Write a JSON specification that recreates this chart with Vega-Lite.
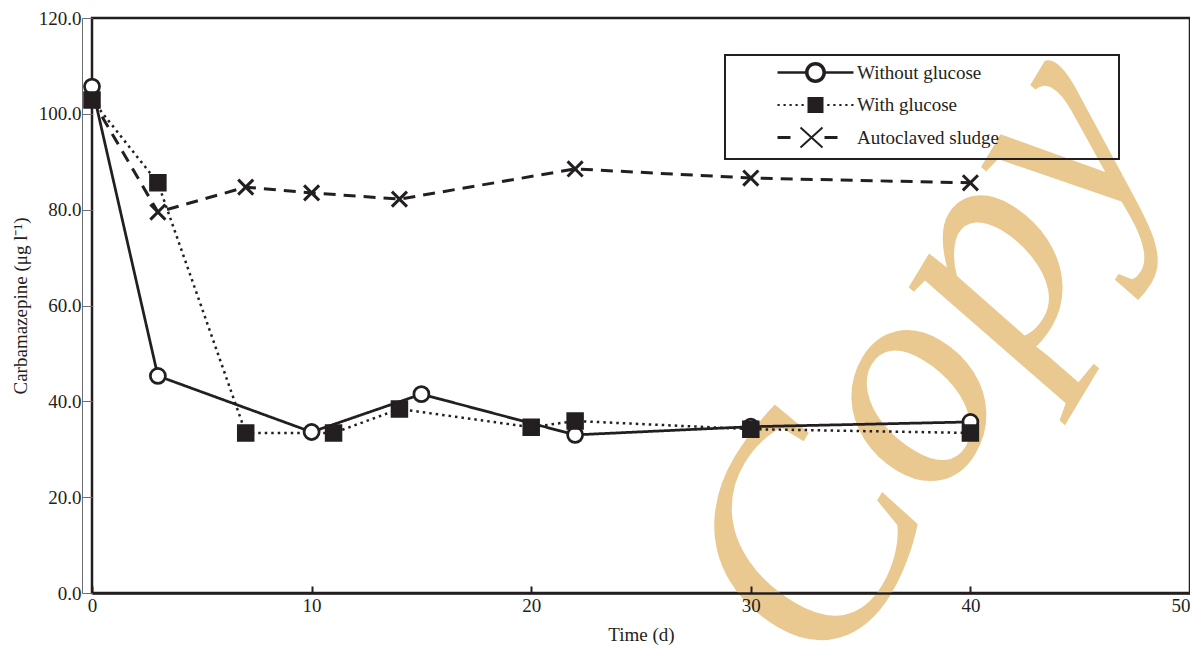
{
  "$schema": "https://vega.github.io/schema/vega-lite/v6.json",
  "width": 1098,
  "height": 575,
  "autosize": "none",
  "padding": {"left": 92, "top": 18, "right": 0, "bottom": 57},
  "background": "white",
  "config": {
    "view": {"stroke": "#231f20", "strokeWidth": 2.5},
    "font": "Liberation Serif",
    "legend": {"strokeWidth": 2},
    "axis": {"labelFont": "Liberation Serif", "titleFont": "Liberation Serif", "labelColor": "#231f20", "titleColor": "#231f20", "labelFontSize": 19, "titleFontSize": 19, "titleFontWeight": "normal", "grid": false},
    "axisX": {"domain": true, "domainColor": "#231f20", "domainWidth": 2.5, "tickSize": -7, "tickWidth": 2, "tickColor": "#231f20", "labelPadding": 10, "titlePadding": 10, "labelFlush": false},
    "axisY": {"offset": 10, "domainColor": "#6d6e71", "domainWidth": 1, "tickColor": "#6d6e71", "tickWidth": 1, "tickSize": -10, "labelPadding": 11, "titlePadding": 8, "titleColor": "#231f20"}
  },
  "data": {
    "values": [
      {"series": "Without glucose", "t": 0, "v": 105.7},
      {"series": "Without glucose", "t": 3, "v": 45.3},
      {"series": "Without glucose", "t": 10, "v": 33.6},
      {"series": "Without glucose", "t": 15, "v": 41.5},
      {"series": "Without glucose", "t": 22, "v": 33.0},
      {"series": "Without glucose", "t": 30, "v": 34.7},
      {"series": "Without glucose", "t": 40, "v": 35.7},
      {"series": "With glucose", "t": 0, "v": 102.9},
      {"series": "With glucose", "t": 3, "v": 85.6},
      {"series": "With glucose", "t": 7, "v": 33.4},
      {"series": "With glucose", "t": 11, "v": 33.4},
      {"series": "With glucose", "t": 14, "v": 38.4},
      {"series": "With glucose", "t": 20, "v": 34.6},
      {"series": "With glucose", "t": 22, "v": 35.9},
      {"series": "With glucose", "t": 30, "v": 34.2},
      {"series": "With glucose", "t": 40, "v": 33.4},
      {"series": "Autoclaved sludge", "t": 0, "v": 103.0},
      {"series": "Autoclaved sludge", "t": 3, "v": 79.5},
      {"series": "Autoclaved sludge", "t": 7, "v": 84.7},
      {"series": "Autoclaved sludge", "t": 10, "v": 83.5},
      {"series": "Autoclaved sludge", "t": 14, "v": 82.2},
      {"series": "Autoclaved sludge", "t": 22, "v": 88.5},
      {"series": "Autoclaved sludge", "t": 30, "v": 86.6},
      {"series": "Autoclaved sludge", "t": 40, "v": 85.6}
    ]
  },
  "resolve": {"scale": {"shape": "independent"}, "legend": {"shape": "independent"}},
  "layer": [
    {
      "data": {"values": [{"label": "Copy"}]},
      "mark": {"type": "text", "angle": 301, "fontSize": 305, "font": "Liberation Serif", "fontStyle": "italic", "color": "#E9C98F", "align": "center", "baseline": "middle"},
      "encoding": {
        "x": {"datum": 37.8, "type": "quantitative", "scale": {"domain": [0, 50], "nice": false, "zero": false},
          "axis": {"title": "Time (d)", "zindex": 1, "values": [0, 10, 20, 30, 40, 50], "labelAlign": {"condition": {"test": "datum.value === 50", "value": "right"}, "value": "center"}}},
        "y": {"datum": 49.0, "type": "quantitative", "scale": {"domain": [0, 120], "nice": false},
          "axis": {"title": "Carbamazepine (μg l⁻¹)", "zindex": 1, "values": [0, 20, 40, 60, 80, 100, 120], "format": ".1f"}},
        "text": {"field": "label"}
      }
    },
    {
      "mark": {"type": "line", "color": "#231f20"},
      "encoding": {
        "x": {"field": "t", "type": "quantitative", "scale": {"domain": [0, 50], "nice": false, "zero": false},
          "axis": {"title": "Time (d)", "zindex": 1, "values": [0, 10, 20, 30, 40, 50], "labelAlign": {"condition": {"test": "datum.value === 50", "value": "right"}, "value": "center"}}},
        "y": {"field": "v", "type": "quantitative", "scale": {"domain": [0, 120], "nice": false},
          "axis": {"title": "Carbamazepine (μg l⁻¹)", "zindex": 1, "values": [0, 20, 40, 60, 80, 100, 120], "format": ".1f"}},
        "strokeDash": {"field": "series", "type": "nominal", "scale": {"domain": ["With glucose", "Without glucose", "Autoclaved sludge"], "range": [[2.5, 4], [1, 0], [12, 8]]}, "legend": null},
        "strokeWidth": {"field": "series", "type": "nominal", "scale": {"domain": ["With glucose", "Without glucose", "Autoclaved sludge"], "range": [2.5, 3, 3.5]}, "legend": null}
      }
    },
    {
      "mark": {"type": "point", "stroke": "#231f20", "opacity": 1},
      "encoding": {
        "x": {"field": "t", "type": "quantitative", "axis": {"title": "Time (d)", "zindex": 1, "values": [0, 10, 20, 30, 40, 50], "labelAlign": {"condition": {"test": "datum.value === 50", "value": "right"}, "value": "center"}}},
        "y": {"field": "v", "type": "quantitative", "axis": {"title": "Carbamazepine (μg l⁻¹)", "zindex": 1, "values": [0, 20, 40, 60, 80, 100, 120], "format": ".1f"}},
        "shape": {"field": "series", "type": "nominal", "scale": {"domain": ["With glucose", "Without glucose", "Autoclaved sludge"], "range": ["square", "circle", "M-1,-1L1,1M-1,1L1,-1"]}, "legend": null},
        "fill": {"field": "series", "type": "nominal", "scale": {"domain": ["With glucose", "Without glucose", "Autoclaved sludge"], "range": ["#231f20", "white", "transparent"]}, "legend": null},
        "size": {"field": "series", "type": "nominal", "scale": {"domain": ["With glucose", "Without glucose", "Autoclaved sludge"], "range": [225, 227, 484]}, "legend": null},
        "strokeWidth": {"field": "series", "type": "nominal", "scale": {"domain": ["With glucose", "Without glucose", "Autoclaved sludge"], "range": [0.5, 3.5, 1.8]}, "legend": null}
      }
    },
    {
      "data": {"values": []},
      "mark": {"type": "point", "filled": true, "fill": "#231f20", "stroke": "#231f20", "strokeWidth": 1.3},
      "encoding": {
        "x": {"field": "t", "type": "quantitative"},
        "y": {"field": "v", "type": "quantitative"},
        "shape": {"field": "series", "type": "nominal",
          "scale": {"domain": ["Without glucose", "With glucose", "Autoclaved sludge"],
            "range": [
              "M-38,-1.3L-10,-1.3L-10,1.3L-38,1.3Z M10,-1.3L38,-1.3L38,1.3L10,1.3Z M10.5,0A10.5,10.5 0 1,1 -10.5,0A10.5,10.5 0 1,1 10.5,0Z M6.9,0A6.9,6.9 0 1,0 -6.9,0A6.9,6.9 0 1,0 6.9,0Z",
              "M-38,-1.1L-35.8,-1.1L-35.8,1.1L-38,1.1Z M-32,-1.1L-29.8,-1.1L-29.8,1.1L-32,1.1Z M-26,-1.1L-23.8,-1.1L-23.8,1.1L-26,1.1Z M-20,-1.1L-17.8,-1.1L-17.8,1.1L-20,1.1Z M-14,-1.1L-11.8,-1.1L-11.8,1.1L-14,1.1Z M-8,-8L8,-8L8,8L-8,8Z M11.8,-1.1L14,-1.1L14,1.1L11.8,1.1Z M17.8,-1.1L20,-1.1L20,1.1L17.8,1.1Z M23.8,-1.1L26,-1.1L26,1.1L23.8,1.1Z M29.8,-1.1L32,-1.1L32,1.1L29.8,1.1Z M35.8,-1.1L38,-1.1L38,1.1L35.8,1.1Z",
              "M-38,-1.5L-25,-1.5L-25,1.5L-38,1.5Z M-14.33,-10.74L7.67,9.26L6.33,10.74L-15.67,-9.26Z M-15.67,9.26L6.33,-10.74L7.67,-9.26L-14.33,10.74Z M9,-1.5L22,-1.5L22,1.5L9,1.5Z"
            ]},
          "legend": {
            "orient": "none", "legendX": 633, "legendY": 37, "title": null, "padding": 8,
            "strokeColor": "#231f20", "labelFontSize": 19, "labelFont": "Liberation Serif", "labelColor": "#231f20", "labelLimit": 500,
            "symbolOffset": 73, "labelOffset": 32, "rowPadding": 7.5, "symbolSize": 4,
            "symbolFillColor": "#231f20", "symbolStrokeColor": "#231f20", "symbolStrokeWidth": 1.3, "symbolOpacity": 1,
            "labelExpr": "datum.label + '\u2800\u2800\u2800\u2800\u2800\u2800\u2800\u2800'"
          }}
      }
    }
  ]
}
